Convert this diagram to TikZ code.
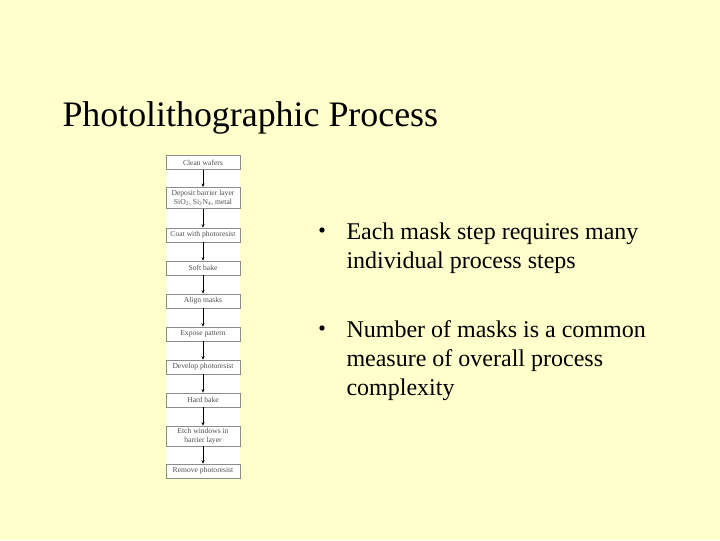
\documentclass[tikz,border=0pt]{standalone}
\usepackage{fontspec}
\setmainfont{Liberation Serif}
\usetikzlibrary{arrows.meta}

\definecolor{slidebg}{HTML}{FFFFCC}
\definecolor{boxline}{HTML}{8C8C8C}
\definecolor{boxtext}{HTML}{505050}

\tikzset{every picture/.style={line width=0.75pt}}
\tikzset{
  stepbox/.style={draw=boxline, line width=0.5pt, fill=white, text=boxtext,
    minimum width=55.5pt, minimum height=10.5pt, inner sep=0.5pt,
    align=center, font=\fontsize{5.7}{6.3}\selectfont},
  flowarrow/.style={draw=black, line width=0.5pt, -{Stealth[length=2.6pt,width=2.2pt]}},
  bulletline/.style={anchor=north west, inner sep=0pt, align=left,
    font=\fontsize{18}{21.75}\selectfont},
  bulletdot/.style={circle, fill=black, inner sep=0pt, minimum size=4pt}
}

\begin{document}
\begin{tikzpicture}[x=0.75pt,y=0.75pt,yscale=-1,xscale=1]
    % slide background
    \fill [slidebg] (0,0) rectangle (720,540);
    \useasboundingbox (0,0) rectangle (720,540);

    % Title
    \node (title) at (62,126) [anchor=base west, inner sep=0pt, font=\fontsize{26.9}{32}\selectfont] {Photolithographic Process};

    % white strip behind the flow chart
    \fill [white] (166,155) rectangle (240,478);

    % Flow chart steps
    \node (clean) [stepbox] at (203,162.5) {Clean wafers};
    \node (deposit) [stepbox, minimum height=16pt] at (203,198) {Deposit barrier layer\\SiO\textsubscript{2}, Si\textsubscript{3}N\textsubscript{4}, metal};
    \node (coat) [stepbox] at (203,235) {Coat with photoresist};
    \node (soft) [stepbox] at (203,268) {Soft bake};
    \node (align) [stepbox] at (203,301) {Align masks};
    \node (expose) [stepbox] at (203,334) {Expose pattern};
    \node (develop) [stepbox] at (203,367) {Develop photoresist};
    \node (hard) [stepbox] at (203,400) {Hard bake};
    \node (etch) [stepbox, minimum height=15pt] at (203,436) {Etch windows in\\barrier layer};
    \node (remove) [stepbox] at (203,471) {Remove photoresist};

    % Arrows between steps
    \foreach \a/\b in {clean/deposit, deposit/coat, coat/soft, soft/align, align/expose,
                       expose/develop, develop/hard, hard/etch, etch/remove}
      \draw [flowarrow] (\a.south) -- (\b.north);

    % Bullets
    \node (dotA) at (322,230) [bulletdot] {};
    \node (itemA) at (346,222) [bulletline] {Each mask step requires many\\individual process steps};
    \node (dotB) at (322,328) [bulletdot] {};
    \node (itemB) at (346,320) [bulletline] {Number of masks is a common\\measure of overall process\\complexity};

\end{tikzpicture}
\end{document}
